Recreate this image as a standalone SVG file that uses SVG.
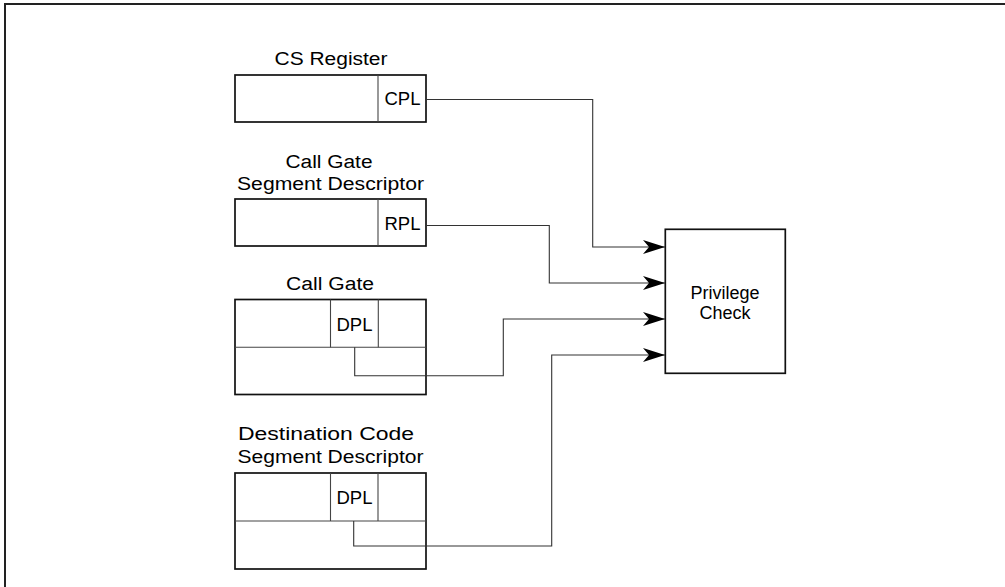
<svg xmlns="http://www.w3.org/2000/svg" width="1005" height="587" viewBox="0 0 1005 587">
<style>
.t{font-family:"Liberation Sans",Arial,sans-serif;font-size:18px;fill:#000;text-anchor:middle}
.box{fill:#fff;stroke:#111;stroke-width:1.7}
.div{stroke:#444;stroke-width:1.1;fill:none}
.frame{stroke:#222;stroke-width:2;fill:none}
.conn{stroke:#333;stroke-width:1.1;fill:none}
</style>
<defs>
<marker id="ah" markerUnits="userSpaceOnUse" markerWidth="24" markerHeight="16" refX="22" refY="8" orient="auto">
<path d="M22,8 L0,1 L6,8 L0,15 Z" fill="#000"/>
</marker>
</defs>
<path class="frame" d="M5,587 V4 H1005"/>
<g id="cs-register">
<text class="t" x="331" y="65" textLength="113" lengthAdjust="spacingAndGlyphs">CS Register</text>
<rect class="box" x="235" y="75" width="191" height="47"/>
<line class="div" x1="378" y1="75" x2="378" y2="122"/>
<text class="t" x="402.5" y="105" textLength="36" lengthAdjust="spacingAndGlyphs">CPL</text>
</g>
<g id="call-gate-segment-descriptor">
<text class="t" x="329" y="168" textLength="87" lengthAdjust="spacingAndGlyphs">Call Gate</text>
<text class="t" x="330.5" y="190" textLength="187" lengthAdjust="spacingAndGlyphs">Segment Descriptor</text>
<rect class="box" x="235" y="199" width="191" height="47"/>
<line class="div" x1="378" y1="199" x2="378" y2="246"/>
<text class="t" x="402.5" y="229.5" textLength="36" lengthAdjust="spacingAndGlyphs">RPL</text>
</g>
<g id="call-gate">
<text class="t" x="330" y="290" textLength="88" lengthAdjust="spacingAndGlyphs">Call Gate</text>
<rect class="box" x="235" y="299.5" width="191" height="95"/>
<line class="div" x1="235" y1="347.3" x2="426" y2="347.3"/>
<line class="div" x1="330.5" y1="299.5" x2="330.5" y2="347.3"/>
<line class="div" x1="378.3" y1="299.5" x2="378.3" y2="347.3"/>
<text class="t" x="354.5" y="331" textLength="36" lengthAdjust="spacingAndGlyphs">DPL</text>
</g>
<g id="destination-code-segment-descriptor">
<text class="t" x="326" y="440" textLength="176" lengthAdjust="spacingAndGlyphs">Destination Code</text>
<text class="t" x="330.5" y="462.7" textLength="186" lengthAdjust="spacingAndGlyphs">Segment Descriptor</text>
<rect class="box" x="235" y="473" width="191" height="96"/>
<line class="div" x1="235" y1="521" x2="426" y2="521"/>
<line class="div" x1="330.5" y1="473" x2="330.5" y2="521"/>
<line class="div" x1="378" y1="473" x2="378" y2="521"/>
<text class="t" x="354.5" y="504.3" textLength="36" lengthAdjust="spacingAndGlyphs">DPL</text>
</g>
<g id="privilege-check">
<rect class="box" x="665.3" y="229.3" width="120" height="144"/>
<text class="t" x="725" y="299" textLength="69" lengthAdjust="spacingAndGlyphs">Privilege</text>
<text class="t" x="725" y="319" textLength="51" lengthAdjust="spacingAndGlyphs">Check</text>
</g>
<g id="connectors">
<path class="conn" marker-end="url(#ah)" d="M426,99.5 H592.7 V247 H665"/>
<path class="conn" marker-end="url(#ah)" d="M426,225.5 H549.3 V283 H665"/>
<path class="conn" marker-end="url(#ah)" d="M354.7,347.3 V375.7 H503.3 V319 H665"/>
<path class="conn" marker-end="url(#ah)" d="M353.7,521 V546 H551.7 V355 H665"/>
</g>
</svg>
